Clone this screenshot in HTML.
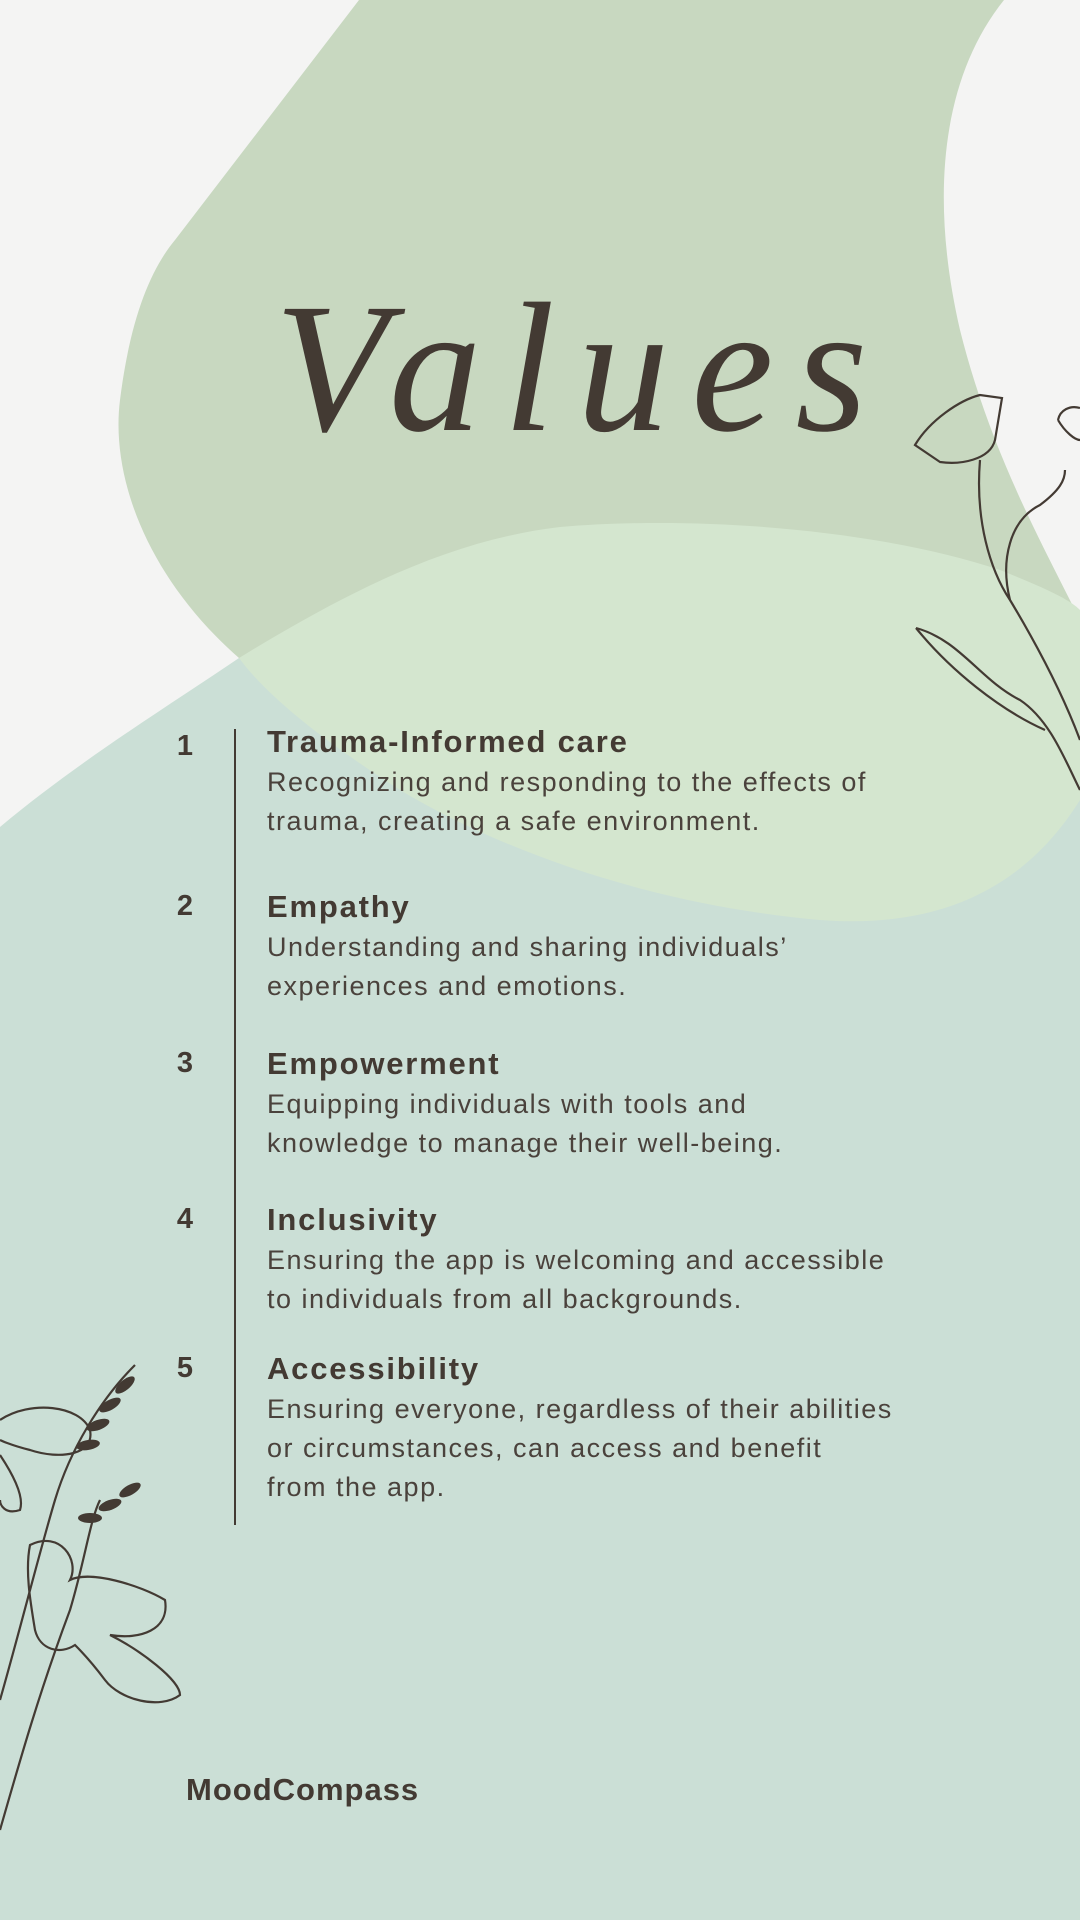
<!DOCTYPE html>
<html><head><meta charset="utf-8"><style>
html,body{margin:0;padding:0}
body{width:1080px;height:1920px;position:relative;overflow:hidden;background:#f4f4f3;font-family:"Liberation Sans",sans-serif;color:#433a33}
svg.bg{position:absolute;left:0;top:0}
.title{position:absolute;left:0;width:1164px;top:262px;text-align:center;font-family:"Liberation Serif",serif;font-style:italic;font-size:185px;letter-spacing:22px;color:#433a33}
.num{position:absolute;left:170px;width:30px;text-align:center;font-weight:bold;font-size:29px}
.item{position:absolute;left:267px;width:720px}
.item h3{margin:0;font-size:31px;font-weight:bold;line-height:38px;letter-spacing:1.8px}
.item p{margin:2px 0 0;font-size:27px;line-height:39px;color:#4a423c;letter-spacing:1.5px}
.vline{position:absolute;left:234px;top:729px;width:2px;height:796px;background:#433a33}
.brand{position:absolute;left:186px;top:1772px;font-weight:bold;font-size:31px;letter-spacing:1px}
</style></head><body>
<svg class="bg" width="1080" height="1920" viewBox="0 0 1080 1920">
<path d="M0 827 C80 760 170 705 239 658 L1080 660 L1080 1920 L0 1920 Z" fill="#cbdfd6"/>
<path d="M359 0 L1004 0 C940 80 930 200 960 330 C990 450 1040 540 1080 620 L1080 700 L239 658 C150 580 110 480 120 400 C130 320 150 270 175 240 Z" fill="#c8d8c0"/>
<path d="M239 658 C350 590 450 540 560 527 C700 515 880 530 1000 570 C1050 590 1070 600 1080 610 L1080 800 C1030 880 950 930 820 920 C650 905 500 850 400 790 C330 745 270 700 239 658 Z" fill="#d4e6cf"/>
<g fill="none" stroke="#433a33" stroke-width="2.2">
<path d="M980 460 C975 520 990 570 1010 600 C1040 650 1065 700 1080 740"/>
<path d="M916 628 C960 640 980 680 1020 700 C1050 720 1065 760 1080 790"/>
<path d="M916 628 C950 670 1000 710 1045 730"/>
<path d="M915 445 C930 420 960 400 980 395 L1002 398 L995 440 C990 460 960 465 940 462 Z"/>
<path d="M1010 600 C1000 560 1010 520 1040 505 C1060 490 1065 480 1065 470"/>
<path d="M1058 420 C1060 410 1070 405 1080 408 M1058 420 C1065 432 1075 440 1080 440"/>
<path d="M0 1830 C20 1760 40 1690 70 1610 C85 1560 90 1520 100 1500"/>
<path d="M0 1700 C20 1630 40 1550 55 1500 C70 1450 100 1400 135 1365"/>
<path d="M0 1420 C30 1400 80 1405 90 1430 C95 1455 60 1460 30 1450 C10 1445 0 1440 0 1440"/>
<path d="M30 1545 C60 1530 80 1560 70 1580 C90 1570 140 1585 165 1600 C170 1630 140 1640 110 1635 C140 1650 180 1680 180 1695 C160 1710 120 1700 105 1680 C90 1660 80 1650 75 1645 C60 1655 40 1650 35 1630 C30 1600 25 1570 30 1545 Z"/>
<path d="M0 1455 C10 1470 25 1495 20 1510 C5 1515 0 1505 0 1500"/>
</g>
<g fill="#433a33">
<ellipse cx="125" cy="1385" rx="12" ry="5" transform="rotate(-40 125 1385)"/>
<ellipse cx="110" cy="1405" rx="12" ry="5" transform="rotate(-30 110 1405)"/>
<ellipse cx="98" cy="1425" rx="12" ry="5" transform="rotate(-20 98 1425)"/>
<ellipse cx="88" cy="1445" rx="12" ry="5" transform="rotate(-10 88 1445)"/>
<ellipse cx="130" cy="1490" rx="12" ry="5" transform="rotate(-30 130 1490)"/>
<ellipse cx="110" cy="1505" rx="12" ry="5" transform="rotate(-20 110 1505)"/>
<ellipse cx="90" cy="1518" rx="12" ry="5"/>
</g>
</svg>
<div class="title">Values</div>
<div class="vline"></div>
<div class="num" style="top:730px">1</div>
<div class="item" style="top:723px"><h3>Trauma-Informed care</h3><p>Recognizing and responding to the effects of<br>trauma, creating a safe environment.</p></div>
<div class="num" style="top:890px">2</div>
<div class="item" style="top:888px"><h3>Empathy</h3><p>Understanding and sharing individuals’<br>experiences and emotions.</p></div>
<div class="num" style="top:1047px">3</div>
<div class="item" style="top:1045px"><h3>Empowerment</h3><p>Equipping individuals with tools and<br>knowledge to manage their well-being.</p></div>
<div class="num" style="top:1203px">4</div>
<div class="item" style="top:1201px"><h3>Inclusivity</h3><p>Ensuring the app is welcoming and accessible<br>to individuals from all backgrounds.</p></div>
<div class="num" style="top:1352px">5</div>
<div class="item" style="top:1350px"><h3>Accessibility</h3><p>Ensuring everyone, regardless of their abilities<br>or circumstances, can access and benefit<br>from the app.</p></div>
<div class="brand">MoodCompass</div>
</body></html>
